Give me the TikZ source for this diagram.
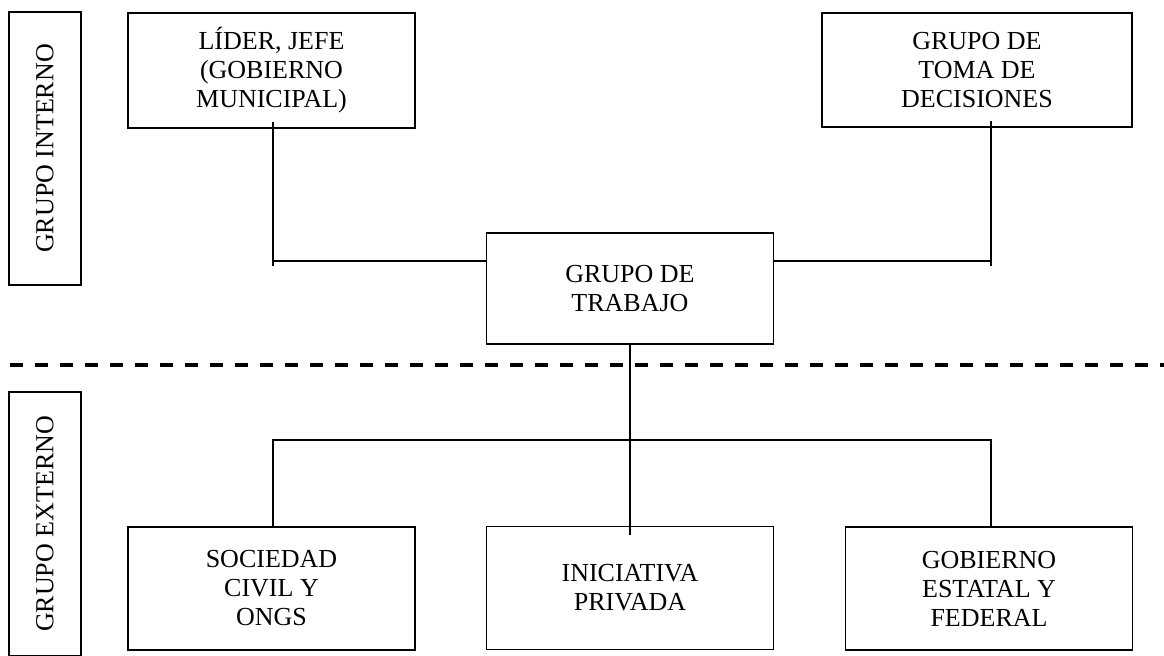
\documentclass[tikz,border=0pt]{standalone}
\usepackage{fontspec}
\setmainfont{Liberation Serif}

\begin{document}
\begin{tikzpicture}[x=0.5pt, y=-0.5pt,
  caja/.style={draw, line width=0.8pt, align=center, inner sep=2pt,
    font=\fontsize{13}{14.5}\selectfont, minimum width=143.5pt},
  grupo/.style={draw, line width=0.8pt, rotate=90, minimum height=36pt,
    font=\fontsize{13}{15}\selectfont},
  enlace/.style={line width=0.7pt}]
\useasboundingbox (0,0) rectangle (1164,656);
% grupos
\node[grupo, minimum width=136.5pt] (interno) at (45,148.5) {GRUPO INTERNO};
\node[grupo, minimum width=132pt] (externo) at (45,524) {GRUPO EXTERNO};
\draw[line width=2pt, dash pattern=on 6.5pt off 6pt] (10,365) -- (1164,365);
% cajas
\node[caja, minimum height=57.5pt] (lider) at (271.5,70.5) {LÍDER, JEFE\\(GOBIERNO\\MUNICIPAL)};
\node[caja, minimum width=155pt, minimum height=57pt] (toma) at (977,70) {GRUPO DE\\TOMA DE\\DECISIONES};
\node[caja, minimum height=55.5pt] (trabajo) at (630,288.5) {GRUPO DE\\TRABAJO};
\node[caja, minimum height=61.5pt] (sociedad) at (271.5,588.5) {SOCIEDAD\\CIVIL Y\\ONGS};
\node[caja, minimum height=61.5pt] (iniciativa) at (630,588) {INICIATIVA\\PRIVADA};
\node[caja, minimum height=61.5pt] (gobierno) at (989,588.5) {GOBIERNO\\ESTATAL Y\\FEDERAL};
% uniones
\coordinate (hl) at (273,261);
\coordinate (hr) at (991,261);
\coordinate (bl) at (273,440);
\coordinate (br) at (991,440);
\draw[enlace] ([yshift=3.5pt]hl |- lider.south) -- ([yshift=-2.5pt]hl);
\draw[enlace] (hl) -- (hl -| trabajo.west);
\draw[enlace] ([yshift=3.5pt]hr |- toma.south) -- ([yshift=-2.5pt]hr);
\draw[enlace] (hr) -- (hr -| trabajo.east);
\draw[enlace] (trabajo.south) -- ([yshift=-4.5pt]iniciativa.north);
\draw[enlace] (bl |- sociedad.north) -- (bl) -- (br) -- (br |- gobierno.north);
\end{tikzpicture}
\end{document}
